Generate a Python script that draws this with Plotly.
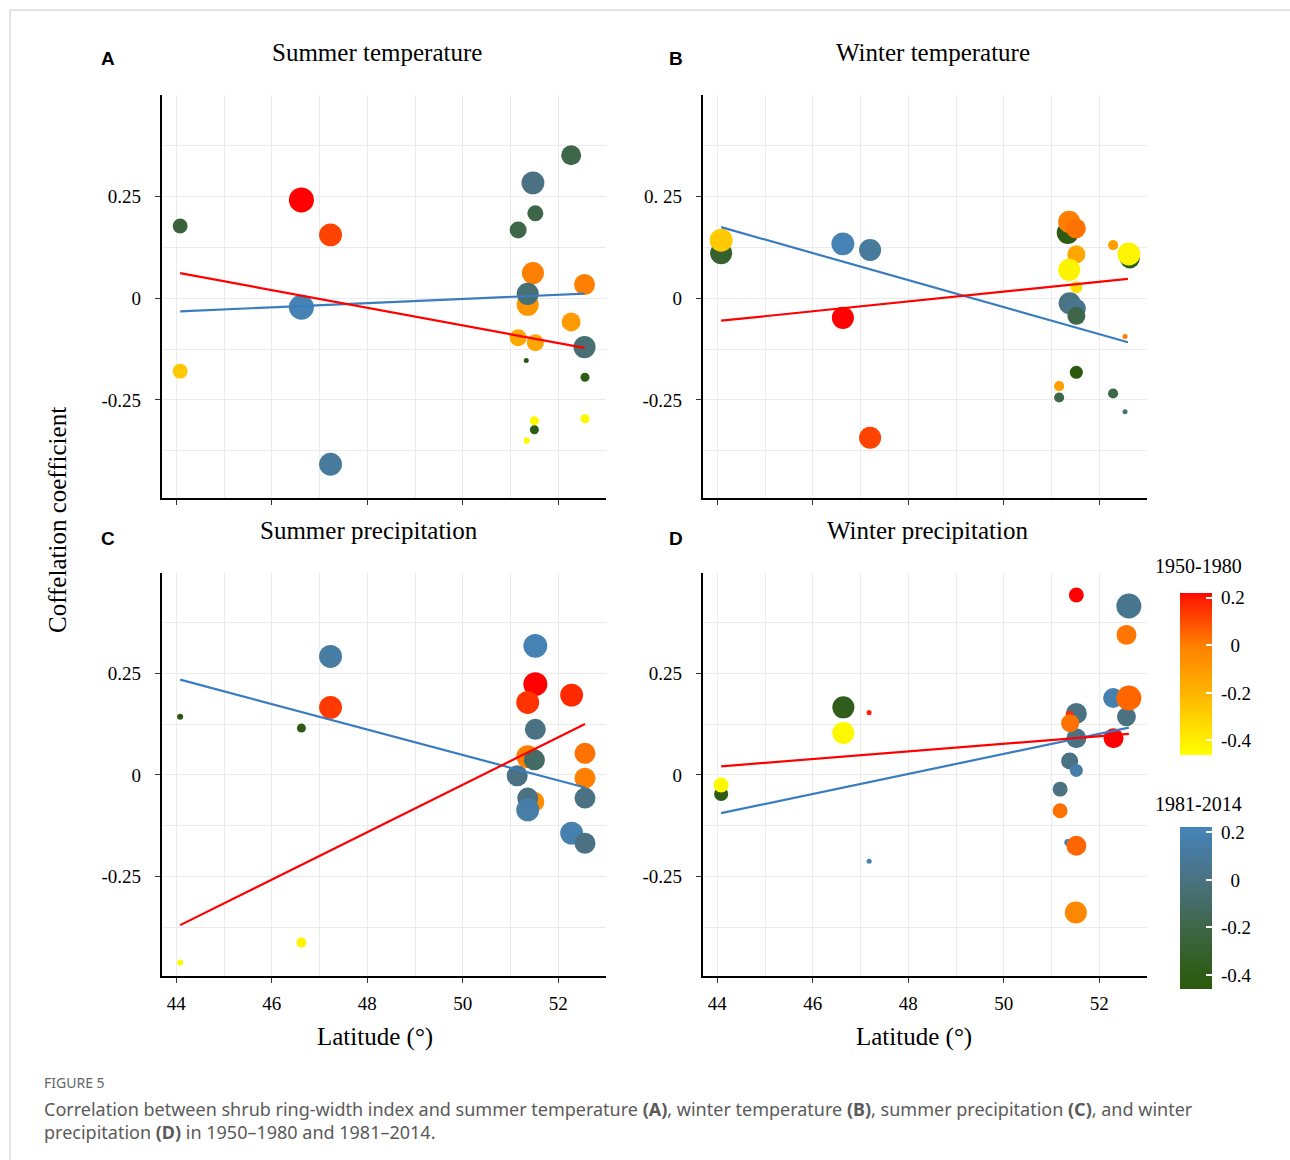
import plotly.graph_objects as go

W, H = 1290, 1160

# ---------------- data ----------------
# strength: relative symbol size variable (0..1)
# colour value: correlation value shown on the colour bars

# Panel A  - Summer temperature
A_warm_lat = [44.08, 46.62, 47.23, 51.47, 52.55, 51.36, 52.27, 51.16, 51.52, 51.50, 51.34, 52.56]
A_warm_r   = [-0.179, 0.242, 0.156, 0.062, 0.034, -0.016, -0.058, -0.097, -0.109, -0.301, -0.350, -0.296]
A_warm_c   = [-0.27, 0.22, 0.12, 0.0, 0.0, -0.08, -0.10, -0.15, -0.15, -0.44, -0.44, -0.44]
A_warm_s   = [0.52, 1.0, 0.9, 0.86, 0.81, 0.86, 0.71, 0.62, 0.62, 0.24, 0.1, 0.24]
A_cool_lat = [44.08, 46.62, 47.23, 52.27, 51.47, 51.52, 51.16, 51.36, 52.55, 51.33, 52.56, 51.50]
A_cool_r   = [0.178, -0.022, -0.408, 0.352, 0.284, 0.209, 0.168, 0.011, -0.120, -0.153, -0.194, -0.323]
A_cool_c   = [-0.25, 0.20, 0.10, -0.20, 0.0, -0.20, -0.20, -0.05, -0.05, -0.45, -0.40, -0.40]
A_cool_s   = [0.52, 1.0, 0.9, 0.76, 0.9, 0.57, 0.62, 0.86, 0.86, 0.05, 0.24, 0.24]
A_warm_fit_lat = [44.08, 52.55]
A_warm_fit_r   = [0.062, -0.122]
A_cool_fit_lat = [44.08, 52.55]
A_cool_fit_r   = [-0.032, 0.0115]

# Panel B  - Winter temperature
B_warm_lat = [44.08, 46.63, 47.20, 51.37, 51.51, 51.52, 51.37, 51.52, 52.29, 52.62, 52.54, 51.16]
B_warm_r   = [0.143, -0.048, -0.343, 0.188, 0.172, 0.108, 0.070, 0.027, 0.131, 0.109, -0.094, -0.216]
B_warm_c   = [-0.28, 0.22, 0.12, 0.0, 0.03, -0.15, -0.42, -0.35, -0.12, -0.42, 0.0, -0.12]
B_warm_s   = [0.9, 0.86, 0.86, 0.86, 0.76, 0.67, 0.86, 0.38, 0.29, 0.9, 0.05, 0.29]
B_cool_lat = [44.08, 46.63, 47.20, 51.34, 52.64, 51.38, 51.51, 51.52, 51.52, 51.16, 52.29, 52.54]
B_cool_r   = [0.111, 0.134, 0.119, 0.161, 0.098, -0.012, -0.025, -0.043, -0.182, -0.244, -0.234, -0.279]
B_cool_c   = [-0.30, 0.20, 0.10, -0.42, -0.40, 0.0, 0.05, -0.20, -0.45, -0.20, -0.20, -0.05]
B_cool_s   = [0.86, 0.9, 0.86, 0.86, 0.76, 0.86, 0.76, 0.67, 0.43, 0.29, 0.29, 0.05]
B_warm_fit_lat = [44.08, 52.60]
B_warm_fit_r   = [-0.055, 0.048]
B_cool_fit_lat = [44.08, 52.60]
B_cool_fit_r   = [0.175, -0.108]

# Panel C  - Summer precipitation
C_warm_lat = [44.08, 46.62, 47.23, 51.52, 51.36, 52.28, 51.36, 52.56, 52.56, 51.50]
C_warm_r   = [-0.461, -0.412, 0.166, 0.223, 0.178, 0.196, 0.045, 0.053, -0.008, -0.066]
C_warm_c   = [-0.44, -0.42, 0.14, 0.22, 0.15, 0.17, 0.0, 0.03, 0.0, -0.05]
C_warm_s   = [0.1, 0.29, 0.9, 0.95, 0.9, 0.9, 0.9, 0.81, 0.81, 0.76]
C_cool_lat = [44.08, 46.62, 47.23, 51.52, 51.52, 51.50, 51.14, 51.36, 51.36, 52.56, 52.28, 52.56]
C_cool_r   = [0.143, 0.115, 0.291, 0.317, 0.112, 0.037, -0.002, -0.057, -0.086, -0.057, -0.143, -0.168]
C_cool_c   = [-0.45, -0.42, 0.13, 0.20, 0.0, -0.10, 0.0, 0.0, 0.15, 0.0, 0.18, 0.0]
C_cool_s   = [0.1, 0.24, 0.9, 0.95, 0.81, 0.81, 0.81, 0.81, 0.9, 0.81, 0.9, 0.81]
C_warm_fit_lat = [44.08, 52.56]
C_warm_fit_r   = [-0.369, 0.125]
C_cool_fit_lat = [44.08, 52.56]
C_cool_fit_r   = [0.234, -0.031]

# Panel D  - Winter precipitation
D_warm_lat = [44.08, 46.64, 47.18, 51.52, 52.57, 52.62, 51.38, 51.39, 52.30, 51.18, 51.52, 51.51]
D_warm_r   = [-0.025, 0.103, 0.153, 0.442, 0.344, 0.189, 0.147, 0.127, 0.090, -0.088, -0.174, -0.338]
D_warm_c   = [-0.44, -0.44, 0.18, 0.22, 0.02, 0.05, 0.16, 0.03, 0.22, 0.03, 0.05, -0.03]
D_warm_s   = [0.52, 0.86, 0.05, 0.52, 0.76, 1.0, 0.19, 0.67, 0.76, 0.52, 0.76, 0.86]
D_cool_lat = [44.08, 46.64, 47.18, 52.62, 52.29, 52.57, 51.52, 51.52, 51.38, 51.52, 51.18, 51.34]
D_cool_r   = [-0.047, 0.166, -0.212, 0.415, 0.189, 0.143, 0.151, 0.090, 0.034, 0.011, -0.035, -0.166]
D_cool_c   = [-0.40, -0.38, 0.20, 0.05, 0.18, 0.0, 0.0, 0.0, 0.0, 0.15, 0.0, 0.20]
D_cool_s   = [0.48, 0.86, 0.05, 1.0, 0.76, 0.71, 0.81, 0.76, 0.62, 0.43, 0.52, 0.14]
D_warm_fit_lat = [44.08, 52.62]
D_warm_fit_r   = [0.021, 0.101]
D_cool_fit_lat = [44.08, 52.62]
D_cool_fit_r   = [-0.094, 0.116]

panel_letters = ["A", "B", "C", "D"]
panel_titles = ["Summer temperature", "Winter temperature", "Summer precipitation", "Winter precipitation"]
period_labels = ["1950-1980", "1981-2014"]
x_tick_vals = [44, 46, 48, 50, 52]
y_tick_vals = [-0.25, 0, 0.25]
y_tick_text = ["-0.25", "0", "0.25"]
y_tick_text_B = ["-0.25", "0", "0. 25"]
cbar_tick_vals = [-0.4, -0.2, 0, 0.2]
cbar_tick_text = ["-0.4", "-0.2", "0", "0.2"]
x_title = "Latitude (°)"
y_title = "Coffelation coefficient"
caption_head = "FIGURE 5"
caption_line1 = ("Correlation between shrub ring-width index and summer temperature <b>(A)</b>, "
                 "winter temperature <b>(B)</b>, summer precipitation <b>(C)</b>, and winter")
caption_line2 = "precipitation <b>(D)</b> in 1950–1980 and 1981–2014."

# ---------------- styling ----------------
SERIF = "Liberation Serif, Times New Roman, serif"
SANS = "Liberation Sans, Arial, sans-serif"
CMIN, CMAX = -0.46, 0.221
WARM_SCALE = [[0.0, "#FFFF00"], [0.088, "#FFEE00"], [0.382, "#FFB400"],
              [0.675, "#FF8000"], [0.969, "#FF1A00"], [1.0, "#FF0000"]]
COOL_SCALE = [[0.0, "#2A5A0C"], [0.088, "#2E5C16"], [0.382, "#3E6648"],
              [0.675, "#4A7282"], [0.969, "#4682B4"], [1.0, "#4784B6"]]
NBSP = "\u00a0"


def fx(px):
    return px / W


def fy(py):
    return 1 - py / H


def msize(s):
    return [4 + 21 * v for v in s]


fig = go.Figure()

panels = [
    dict(ax="", warm=(A_warm_lat, A_warm_r, A_warm_c, A_warm_s), cool=(A_cool_lat, A_cool_r, A_cool_c, A_cool_s),
         wfit=(A_warm_fit_lat, A_warm_fit_r), cfit=(A_cool_fit_lat, A_cool_fit_r), top="cool",
         xd=(162, 606), yd=(95, 498), yr=(-0.491, 0.5), xlab=False, yt=y_tick_text),
    dict(ax="2", warm=(B_warm_lat, B_warm_r, B_warm_c, B_warm_s), cool=(B_cool_lat, B_cool_r, B_cool_c, B_cool_s),
         wfit=(B_warm_fit_lat, B_warm_fit_r), cfit=(B_cool_fit_lat, B_cool_fit_r), top="warm",
         xd=(703, 1147), yd=(95, 498), yr=(-0.491, 0.5), xlab=False, yt=y_tick_text_B),
    dict(ax="3", warm=(C_warm_lat, C_warm_r, C_warm_c, C_warm_s), cool=(C_cool_lat, C_cool_r, C_cool_c, C_cool_s),
         wfit=(C_warm_fit_lat, C_warm_fit_r), cfit=(C_cool_fit_lat, C_cool_fit_r), top="cool",
         xd=(162, 606), yd=(573, 976), yr=(-0.494, 0.496), xlab=True, yt=y_tick_text),
    dict(ax="4", warm=(D_warm_lat, D_warm_r, D_warm_c, D_warm_s), cool=(D_cool_lat, D_cool_r, D_cool_c, D_cool_s),
         wfit=(D_warm_fit_lat, D_warm_fit_r), cfit=(D_cool_fit_lat, D_cool_fit_r), top="warm",
         xd=(703, 1147), yd=(573, 976), yr=(-0.494, 0.496), xlab=True, yt=y_tick_text),
]

for p in panels:
    xa, ya = "x" + p["ax"], "y" + p["ax"]

    def add_points(kind):
        lat, r, c, s = p[kind]
        fig.add_trace(go.Scatter(
            x=lat, y=r, mode="markers", xaxis=xa, yaxis=ya, showlegend=False,
            name=period_labels[0] if kind == "warm" else period_labels[1],
            marker=dict(size=msize(s), color=c, symbol="circle", opacity=1, line=dict(width=0),
                        coloraxis="coloraxis" if kind == "warm" else "coloraxis2")))

    order = ["warm", "cool"] if p["top"] == "cool" else ["cool", "warm"]
    for k in order:
        add_points(k)
    fig.add_trace(go.Scatter(x=p["cfit"][0], y=p["cfit"][1], mode="lines", xaxis=xa, yaxis=ya,
                             showlegend=False, line=dict(color="#3A7CC0", width=2.2)))
    fig.add_trace(go.Scatter(x=p["wfit"][0], y=p["wfit"][1], mode="lines", xaxis=xa, yaxis=ya,
                             showlegend=False, line=dict(color="#FF0000", width=2.2)))

    xkey, ykey = "xaxis" + p["ax"], "yaxis" + p["ax"]
    fig.layout[xkey] = dict(
        domain=[fx(p["xd"][0]), fx(p["xd"][1])], anchor=ya, range=[43.7, 53.0],
        tickvals=x_tick_vals, ticktext=[str(v) for v in x_tick_vals], showticklabels=p["xlab"],
        ticks="outside", ticklen=5, tickcolor="#333333", tickwidth=1,
        showline=True, linecolor="black", linewidth=2.2, zeroline=False,
        showgrid=True, gridcolor="#EBEBEB", gridwidth=1,
        minor=dict(dtick=1, tick0=44, showgrid=True, gridcolor="#EBEBEB", gridwidth=1),
        tickfont=dict(family=SERIF, size=19, color="black"), ticklabelstandoff=4,
        fixedrange=True)
    fig.layout[ykey] = dict(
        domain=[fy(p["yd"][1]), fy(p["yd"][0])], anchor=xa, range=list(p["yr"]),
        tickvals=y_tick_vals, ticktext=p["yt"],
        ticks="outside", ticklen=5, tickcolor="#333333", tickwidth=1,
        showline=True, linecolor="black", linewidth=2.2, zeroline=False,
        showgrid=True, gridcolor="#EBEBEB", gridwidth=1,
        minor=dict(dtick=0.125, tick0=0, showgrid=True, gridcolor="#EBEBEB", gridwidth=1),
        tickfont=dict(family=SERIF, size=19, color="black"), ticklabelstandoff=10,
        fixedrange=True)


def cbar(top_px):
    pads = [NBSP + t if t != "0" else NBSP * 3 + t for t in cbar_tick_text]
    return dict(x=fx(1179.5), xanchor="left", y=fy(top_px), yanchor="top",
                len=162.3 / H, lenmode="fraction", thickness=32, thicknessmode="pixels",
                xpad=0, ypad=0, outlinewidth=0,
                tickvals=cbar_tick_vals, ticktext=pads,
                ticks="inside", ticklen=6, tickcolor="white", tickwidth=1.5,
                tickfont=dict(family=SERIF, size=19, color="black"), ticklabelposition="outside")


annotations = []
# panel titles and letters
for (cx, cy), t in zip([(377, 53), (933, 53), (369, 531), (928, 531)], panel_titles):
    annotations.append(dict(x=fx(cx), y=fy(cy), xref="paper", yref="paper", text=t, showarrow=False,
                            xanchor="center", yanchor="middle", font=dict(family=SERIF, size=25, color="black")))
for (lx, ly), t in zip([(108, 58), (676, 58), (108, 538), (676, 538)], panel_letters):
    annotations.append(dict(x=fx(lx), y=fy(ly), xref="paper", yref="paper", text="<b>%s</b>" % t,
                            showarrow=False, xanchor="center", yanchor="middle",
                            font=dict(family=SANS, size=19, color="black")))
# axis titles
for cx in (375, 914):
    annotations.append(dict(x=fx(cx), y=fy(1037), xref="paper", yref="paper", text=x_title, showarrow=False,
                            xanchor="center", yanchor="middle", font=dict(family=SERIF, size=25, color="black")))
annotations.append(dict(x=fx(57), y=fy(520), xref="paper", yref="paper", text=y_title, showarrow=False,
                        textangle=-90, xanchor="center", yanchor="middle",
                        font=dict(family=SERIF, size=25, color="black")))
# colour bar titles
for cy, t in zip((566, 804), period_labels):
    annotations.append(dict(x=fx(1198), y=fy(cy), xref="paper", yref="paper", text=t, showarrow=False,
                            xanchor="center", yanchor="middle", font=dict(family=SERIF, size=20, color="black")))
# caption
annotations.append(dict(x=fx(42), y=fy(1082), xref="paper", yref="paper", text=caption_head, showarrow=False,
                        xanchor="left", yanchor="middle", font=dict(family="Noto Sans", size=14, color="#666666")))
for cy, t in zip((1109, 1132), (caption_line1, caption_line2)):
    annotations.append(dict(x=fx(42), y=fy(cy), xref="paper", yref="paper", text=t, showarrow=False,
                            xanchor="left", yanchor="middle", font=dict(family="Noto Sans", size=18, color="#5A5A5A")))

shapes = [
    dict(type="line", xref="paper", yref="paper", x0=fx(10), x1=1.0, y0=fy(10), y1=fy(10),
         line=dict(color="#C8C8C8", width=1)),
    dict(type="line", xref="paper", yref="paper", x0=fx(10), x1=fx(10), y0=fy(10), y1=0.0,
         line=dict(color="#C8C8C8", width=1)),
]

fig.update_layout(
    width=W, height=H, margin=dict(l=0, r=0, t=0, b=0),
    paper_bgcolor="white", plot_bgcolor="white", showlegend=False, hovermode=False,
    coloraxis=dict(colorscale=WARM_SCALE, cmin=CMIN, cmax=CMAX, colorbar=cbar(592.7)),
    coloraxis2=dict(colorscale=COOL_SCALE, cmin=CMIN, cmax=CMAX, colorbar=cbar(827.3)),
    annotations=annotations, shapes=shapes,
)

fig.write_html("out.html")
